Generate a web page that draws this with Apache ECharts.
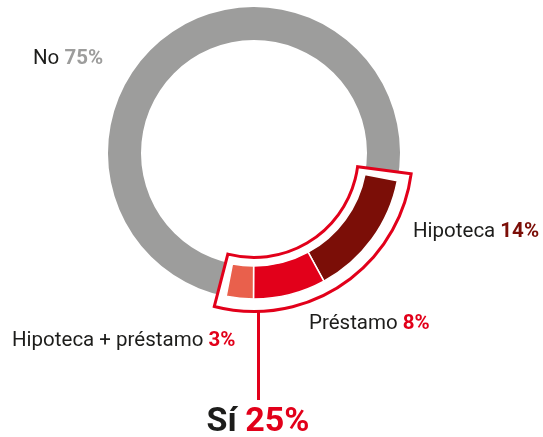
<!DOCTYPE html>
<html>
<head>
<meta charset="utf-8">
<script src="https://cdn.jsdelivr.net/npm/echarts@6/dist/echarts.min.js"></script>
<style>
  html, body { margin: 0; padding: 0; background: #fff; }
  #chart { width: 543px; height: 437px; }
</style>
</head>
<body>
<div id="chart"></div>
<script>
// data
var categories = ['Hipoteca', 'Préstamo', 'Hipoteca + préstamo', 'No'];
var values = [14, 8, 3, 75];
var colors = ['#7b0e07', '#e2001a', '#e9604c', '#9d9d9c'];
var siLabel = 'Sí';
var siValue = values[0] + values[1] + values[2];

var center = [254, 153];
var startAngle = -11;
var pad = 3.5 / 3.6; // outline margin each side, in percent
var red = '#e2001a';
var ink = '#1d1d1b';
var font = 'Roboto, "Noto Sans", sans-serif';

var chart = echarts.init(document.getElementById('chart'));

function ringData(hideNo) {
  return values.map(function (v, i) {
    var isNo = i === 3;
    return {
      name: categories[i],
      value: v,
      itemStyle: {
        color: isNo && hideNo ? 'transparent' : colors[i],
        borderColor: isNo ? 'transparent' : '#fff',
        borderWidth: isNo ? 0 : 1.5
      }
    };
  });
}

function label(x, y, name, val, color, align, size) {
  return {
    type: 'text',
    x: x,
    y: y,
    style: {
      text: '{a|' + name + ' }{b|' + val + '%}',
      align: align || 'left',
      verticalAlign: 'middle',
      rich: {
        a: { fontFamily: font, fontSize: size || 20.5, fill: ink, fontWeight: size ? 700 : 400 },
        b: { fontFamily: font, fontSize: size || 20.5, fill: color, fontWeight: 700 }
      }
    }
  };
}

var option = {
  animation: false,
  series: [
    {
      type: 'pie',
      z: 1,
      silent: true,
      center: center,
      radius: [113, 146],
      startAngle: startAngle,
      label: { show: false },
      labelLine: { show: false },
      data: ringData(false)
    },
    {
      type: 'pie',
      z: 2,
      silent: true,
      center: center,
      radius: [104.5, 158.5],
      startAngle: startAngle + pad * 3.6,
      label: { show: false },
      labelLine: { show: false },
      data: [
        { value: siValue + 2 * pad, itemStyle: { color: '#fff', borderColor: red, borderWidth: 3, borderJoin: 'miter' } },
        { value: 100 - siValue - 2 * pad, itemStyle: { color: 'transparent', borderWidth: 0 } }
      ]
    },
    {
      type: 'pie',
      z: 3,
      silent: true,
      center: center,
      radius: [113, 146],
      startAngle: startAngle,
      label: { show: false },
      labelLine: { show: false },
      data: ringData(true)
    }
  ],
  graphic: [
    { type: 'line', shape: { x1: 258.5, y1: 311, x2: 258.5, y2: 400 }, style: { stroke: red, lineWidth: 3 } },
    label(33, 59, categories[3], values[3], colors[3]),
    label(413, 232, categories[0], values[0], colors[0]),
    label(309, 324, categories[1], values[1], red),
    label(12, 341, categories[2], values[2], red),
    label(258, 422, siLabel, siValue, red, 'center', 34)
  ]
};

chart.setOption(option);
</script>
</body>
</html>
